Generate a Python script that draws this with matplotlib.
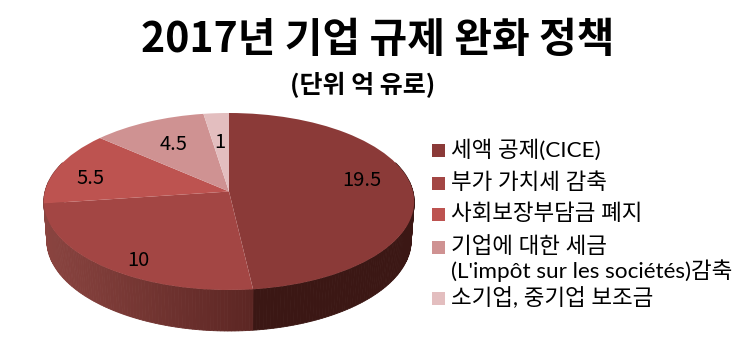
import matplotlib

matplotlib.use("Agg")

import matplotlib.pyplot as plt
import numpy as np
from matplotlib.colors import to_rgb
from matplotlib.patches import Rectangle
from matplotlib.transforms import Transform

plt.rcParams["font.family"] = ["Noto Sans CJK KR", "DejaVu Sans"]

TITLE = "2017년 기업 규제 완화 정책"
SUBTITLE = "(단위 억 유로)"
categories = [
    "세액 공제(CICE)",
    "부가 가치세 감축",
    "사회보장부담금 폐지",
    "기업에 대한 세금\n(L'impôt sur les sociétés)감축",
    "소기업, 중기업 보조금",
]
values = [19.5, 10, 5.5, 4.5, 1]
value_labels = ["19.5", "10", "5.5", "4.5", "1"]
colors = ["#8b3a38", "#a34644", "#bd5350", "#cf9292", "#e3bebf"]

# pixel positions of the labels and legend rows
LABEL_XY = [(362, 180), (138, 260), (90, 178), (174, 145), (220, 142)]
LEGEND_Y = [150, 183, 214, 247, 298]

# shape of the tilted pie, in pixels
CX, CY = 229, 201.5
RX, RY = 184, 88.5
APEX_SHIFT = 10  # perspective moves the centre point up the ellipse
DEPTH = 39
K = APEX_SHIFT / RY


def project(x, y, rx=RX, ry=RY, drop=0.0):
    """Unit circle coordinates to picture pixels, with a bit of perspective."""
    den = 1 + K * y
    px = CX + rx * x / den
    py = CY + drop - (ry * y + APEX_SHIFT * ry / RY) / den
    return px, py


class PieProjection(Transform):
    input_dims = 2
    output_dims = 2

    def transform_non_affine(self, values):
        px, py = project(values[:, 0], values[:, 1])
        return np.column_stack([px, py])


def draw_wall(ax, start_deg, end_deg, left_color, right_color, x_left, x_right):
    """Side of the pie as thin shaded strips, angles clockwise from the top."""
    edges = np.radians(np.linspace(start_deg, end_deg, int(end_deg - start_deg) + 2))
    for t0, t1 in zip(edges[:-1], edges[1:]):
        sx, cy = np.sin([t0, t1]), np.cos([t0, t1])
        top_x, top_y = project(sx, cy)
        bot_x, bot_y = project(sx, cy, rx=RX - 3, ry=RY + 2, drop=DEPTH)
        mix = np.clip((top_x.mean() - x_left) / (x_right - x_left), 0, 1)
        col = (1 - mix) * np.array(to_rgb(left_color)) + mix * np.array(to_rgb(right_color))
        ax.fill(
            [top_x[0], top_x[1], bot_x[1], bot_x[0]],
            [top_y[0], top_y[1], bot_y[1], bot_y[0]],
            color=col,
            lw=0.6,
            zorder=1,
        )


fig = plt.figure(figsize=(7.5, 3.51), dpi=100)
ax = fig.add_axes([0, 0, 1, 1])

wedges, _ = ax.pie(values, colors=colors, startangle=90, counterclock=False)
transform = PieProjection() + ax.transData
for wedge in wedges:
    wedge.set_transform(transform)
    wedge.set_linewidth(0)
    wedge.set_zorder(2)

ax.set_aspect("auto")
ax.set_xlim(0, 750)
ax.set_ylim(351, 0)
ax.axis("off")

first_end = 360 * values[0] / sum(values)
draw_wall(ax, 70, first_end, "#3b1714", "#3b1714", 253, 414)
draw_wall(ax, first_end, 290, "#5c2623", "#8a4440", 252, 44)

for text, (x, y) in zip(value_labels, LABEL_XY):
    ax.text(x, y, text, fontsize=14.5, color="black", ha="center", va="center", zorder=3)

ax.text(378, 40, TITLE, fontsize=29.5, fontweight="bold", ha="center", va="center")
ax.text(363, 85, SUBTITLE, fontsize=18, fontweight="bold", ha="center", va="center")

for name, col, y in zip(categories, colors, LEGEND_Y):
    ax.add_patch(Rectangle((432, y - 6.5), 13, 13, color=col, lw=0))
    ax.text(
        451,
        y - 11,
        name,
        fontsize=16.2,
        family=["Lato", "Noto Sans CJK KR"],
        color="black",
        ha="left",
        va="top",
        linespacing=1.15,
    )

fig.savefig("out.png", dpi=100)
plt.close(fig)
